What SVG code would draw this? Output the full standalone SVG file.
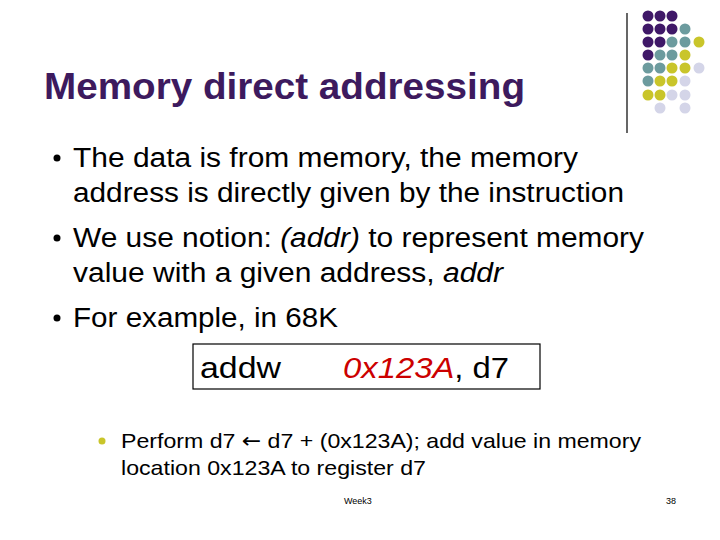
<svg xmlns="http://www.w3.org/2000/svg" width="720" height="540" viewBox="0 0 720 540">
<style>
.t{font-family:"Liberation Sans",Arial,sans-serif;fill:#000}
.P{fill:#3f1868}.T{fill:#6c9b9e}.Y{fill:#c9c52a}.L{fill:#d4d5e8}
</style>
<rect width="720" height="540" fill="#fff"/>
<g id="decor">
<line x1="627" y1="13" x2="627" y2="133" stroke="#000" stroke-width="1.2"/>
<g>
<circle class="P" cx="648" cy="16" r="5.5"/><circle class="P" cx="660" cy="16" r="5.5"/><circle class="P" cx="672" cy="16" r="5.5"/>
<circle class="P" cx="648" cy="29" r="5.5"/><circle class="P" cx="660" cy="29" r="5.5"/><circle class="P" cx="672" cy="29" r="5.5"/><circle class="T" cx="685" cy="29" r="5.5"/>
<circle class="P" cx="648" cy="42" r="5.5"/><circle class="P" cx="660" cy="42" r="5.5"/><circle class="T" cx="672" cy="42" r="5.5"/><circle class="T" cx="685" cy="42" r="5.5"/><circle class="Y" cx="699" cy="42" r="5.5"/>
<circle class="P" cx="648" cy="55" r="5.5"/><circle class="T" cx="660" cy="55" r="5.5"/><circle class="T" cx="672" cy="55" r="5.5"/><circle class="Y" cx="685" cy="55" r="5.5"/>
<circle class="T" cx="648" cy="68" r="5.5"/><circle class="T" cx="660" cy="68" r="5.5"/><circle class="Y" cx="672" cy="68" r="5.5"/><circle class="Y" cx="685" cy="68" r="5.5"/><circle class="L" cx="699" cy="68" r="5.5"/>
<circle class="T" cx="648" cy="81" r="5.5"/><circle class="Y" cx="660" cy="81" r="5.5"/><circle class="Y" cx="672" cy="81" r="5.5"/><circle class="L" cx="685" cy="81" r="5.5"/>
<circle class="Y" cx="648" cy="95" r="5.5"/><circle class="Y" cx="660" cy="95" r="5.5"/><circle class="L" cx="672" cy="95" r="5.5"/><circle class="L" cx="685" cy="95" r="5.5"/>
<circle class="L" cx="660" cy="108" r="5.5"/><circle class="L" cx="685" cy="108" r="5.5"/>
</g>
</g>
<text class="t" x="44" y="99" font-size="36" font-weight="bold" textLength="481" lengthAdjust="spacingAndGlyphs" style="fill:#3d1a5e">Memory direct addressing</text>
<g id="bullets">
<circle cx="57" cy="158" r="3.5" fill="#000"/>
<circle cx="57" cy="238" r="3.5" fill="#000"/>
<circle cx="57" cy="318" r="3.5" fill="#000"/>
<text class="t" x="73" y="167" font-size="27" textLength="505" lengthAdjust="spacingAndGlyphs">The data is from memory, the memory</text>
<text class="t" x="73" y="202" font-size="27" textLength="551" lengthAdjust="spacingAndGlyphs">address is directly given by the instruction</text>
<text class="t" x="73" y="247" font-size="27" textLength="571" lengthAdjust="spacingAndGlyphs">We use notion: <tspan font-style="italic">(addr)</tspan> to represent memory</text>
<text class="t" x="73" y="282" font-size="27" textLength="430" lengthAdjust="spacingAndGlyphs">value with a given address, <tspan font-style="italic">addr</tspan></text>
<text class="t" x="73" y="327" font-size="27" textLength="265" lengthAdjust="spacingAndGlyphs">For example, in 68K</text>
</g>
<g id="code">
<rect x="193" y="344" width="347" height="45" fill="#fff" stroke="#000" stroke-width="1.2"/>
<text class="t" x="200" y="378" font-size="29" textLength="81" lengthAdjust="spacingAndGlyphs">addw</text>
<text class="t" x="343" y="378" font-size="29" textLength="166" lengthAdjust="spacingAndGlyphs"><tspan font-style="italic" style="fill:#cc0000">0x123A</tspan>, d7</text>
</g>
<g id="sub">
<circle cx="102" cy="441" r="3.5" fill="#c9c52a"/>
<text class="t" x="121" y="448" font-size="21" textLength="520" lengthAdjust="spacingAndGlyphs">Perform d7 <tspan font-family="DejaVu Sans">←</tspan> d7 + (0x123A); add value in memory</text>
<text class="t" x="121" y="475" font-size="21" textLength="305" lengthAdjust="spacingAndGlyphs">location 0x123A to register d7</text>
</g>
<text class="t" x="344" y="504" font-size="9">Week3</text>
<text class="t" x="666" y="504" font-size="9">38</text>
</svg>
